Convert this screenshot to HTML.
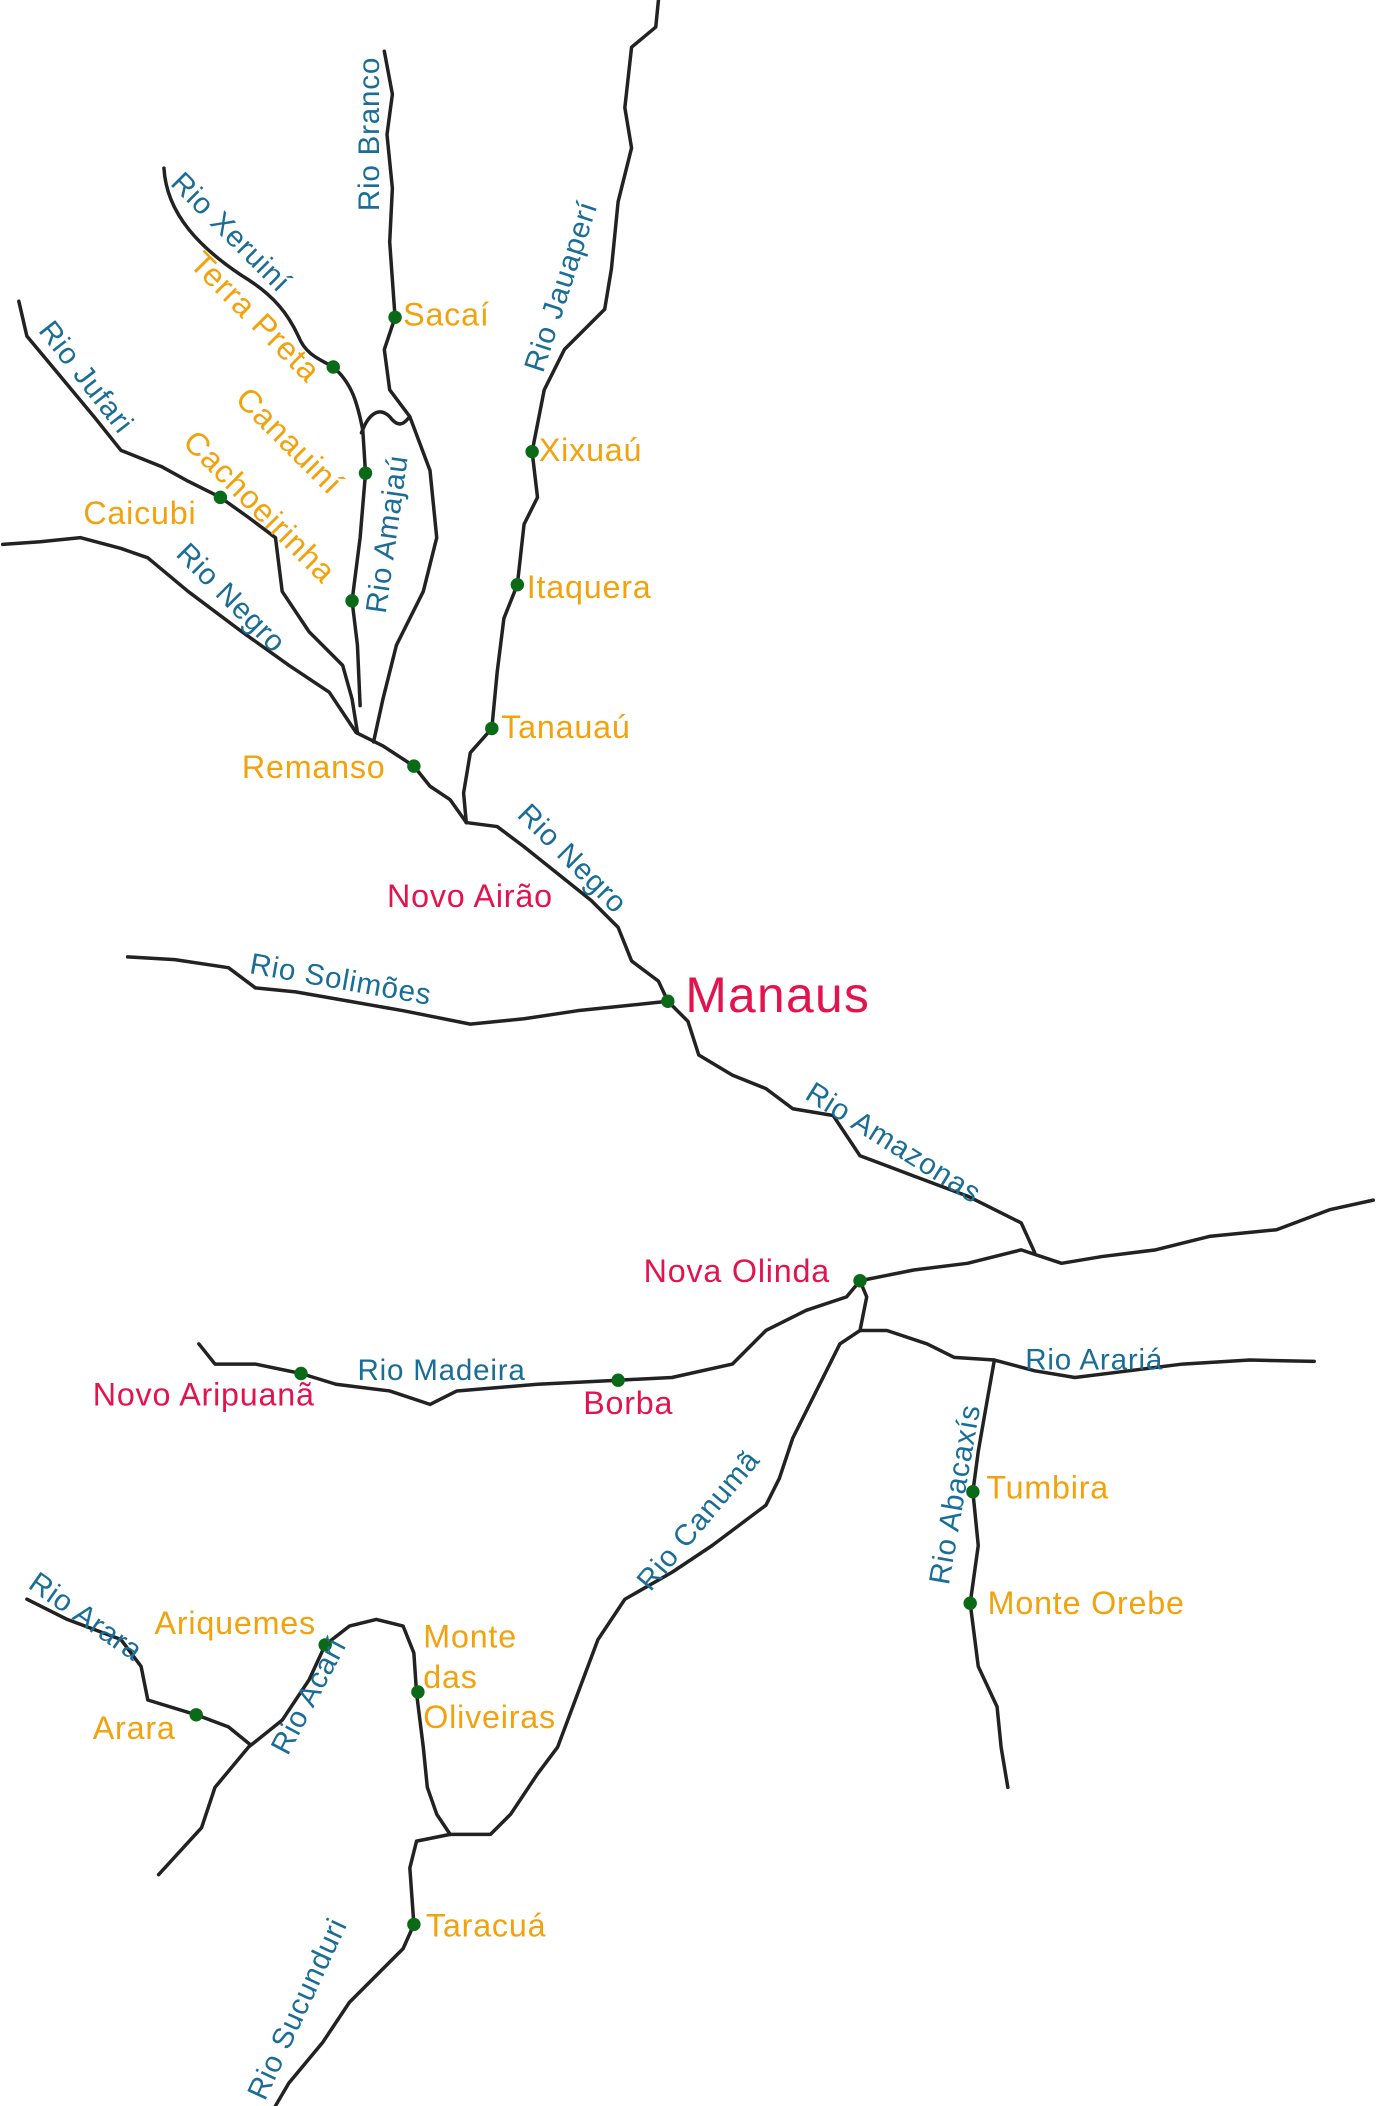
<!DOCTYPE html>
<html><head><meta charset="utf-8"><style>
html,body{margin:0;padding:0;background:#fff;}
svg{display:block;}
text{font-family:"Liberation Sans",sans-serif;letter-spacing:0.6px;}
.b{fill:#1a6d96;font-size:22px;}
.o{fill:#f2a20c;font-size:24px;}
.r{fill:#e3134d;font-size:24px;}
path{fill:none;stroke:#222;stroke-width:2.6;stroke-linejoin:round;stroke-linecap:round;}
circle{fill:#0b6a18;}
</style></head><body>
<svg width="1376" height="2106" viewBox="0 0 1024 1567" xmlns="http://www.w3.org/2000/svg">
<path d="M286,38 L292,70 L288,100 L292,140 L290,180 L294,236 L286,260 L290,290 L305,310 L320,350 L325,400 L315,440 L295,480 L285,520 L278,552"/>
<path d="M122,125 C124,160 150,185 180,205 C205,220 215,235 222,250 C228,265 240,268 248,273 C262,285 266,300 270,320 L272,352 L268,400 L262,447 L266,480 L268,525"/>
<path d="M269,322 C274,308 282,302 290,310 C296,318 300,316 304,311"/>
<path d="M14,224 L20,250 L45,280 L70,310 L90,335 L120,347 L140,358 L164,370 L185,385 L205,400 L210,440 L230,470 L255,495 L262,520 L266,545"/>
<path d="M2,405 L30,403 L60,400 L90,408 L110,415 L140,440 L180,470 L215,495 L245,515 L265,545 L285,555 L308,570 L320,585 L335,595 L347,612"/>
<path d="M490,0 L488,20 L470,35 L465,80 L470,110 L460,150 L455,200 L450,230 L420,260 L405,290 L396,336 L400,370 L390,390 L385,435 L375,460 L370,500 L366,542 L350,560 L345,590 L347,612"/>
<path d="M347,612 L370,615 L390,630 L415,650 L440,670 L460,690 L470,715 L490,730 L497,745"/>
<path d="M95,712 L130,714 L170,720 L190,735 L220,738 L260,745 L300,752 L350,762 L390,758 L430,752 L497,745"/>
<path d="M497,745 L512,760 L520,785 L545,800 L570,810 L590,825 L620,830 L640,860 L680,875 L720,890 L760,910 L770,932"/>
<path d="M640,953 L680,945 L720,940 L760,930 L790,940 L820,935 L860,930 L900,920 L950,915 L990,900 L1022,893"/>
<path d="M640,953 L630,965 L600,975 L570,990 L545,1015 L500,1025 L460,1027 L400,1030 L340,1035 L320,1045 L290,1035 L250,1030 L224,1022 L190,1015 L160,1015 L148,1000"/>
<path d="M640,953 L645,965 L640,990 L625,1000 L615,1020 L605,1040 L590,1070 L580,1100 L570,1120 L530,1150 L500,1170 L465,1190 L445,1220 L430,1260 L415,1300 L400,1320 L380,1350 L365,1365 L335,1365"/>
<path d="M640,990 L660,990 L690,1000 L710,1010 L740,1012 L770,1020 L800,1025 L840,1020 L880,1015 L930,1012 L978,1013"/>
<path d="M740,1012 L735,1040 L728,1080 L724,1110 L728,1150 L722,1193 L728,1240 L742,1270 L745,1300 L750,1330"/>
<path d="M20,1190 L50,1205 L90,1220 L105,1240 L110,1265 L146,1276 L170,1285 L186,1298"/>
<path d="M118,1395 L150,1360 L160,1330 L185,1300 L210,1280 L230,1250 L242,1224 L260,1210 L280,1205 L300,1210 L308,1230 L310,1260 L315,1300 L318,1330 L325,1350 L335,1365"/>
<path d="M335,1365 L310,1370 L305,1390 L308,1432 L300,1450 L285,1465 L260,1490 L240,1520 L215,1550 L205,1567"/>

<circle cx="294" cy="236" r="5"/><circle cx="248" cy="273" r="5"/><circle cx="272" cy="352" r="5"/>
<circle cx="164" cy="370" r="5"/><circle cx="262" cy="447" r="5"/><circle cx="396" cy="336" r="5"/>
<circle cx="385" cy="435" r="5"/><circle cx="366" cy="542" r="5"/><circle cx="308" cy="570" r="5"/>
<circle cx="497" cy="745" r="5"/><circle cx="640" cy="953" r="5"/><circle cx="224" cy="1022" r="5"/>
<circle cx="460" cy="1027" r="5"/><circle cx="724" cy="1110" r="5"/><circle cx="722" cy="1193" r="5"/>
<circle cx="242" cy="1224" r="5"/><circle cx="146" cy="1276" r="5"/><circle cx="311" cy="1259" r="5"/>
<circle cx="308" cy="1432" r="5"/>

<text class="b" transform="translate(282,157) rotate(-90)">Rio Branco</text>
<text class="b" transform="translate(126,137) rotate(45)">Rio Xeruiní</text>
<text class="o" transform="translate(140,197) rotate(45)">Terra Preta</text>
<text class="o" transform="translate(174,298) rotate(45)">Canauiní</text>
<text class="o" transform="translate(135,330) rotate(45)">Cachoeirinha</text>
<text class="b" transform="translate(28,246) rotate(52)">Rio Jufari</text>
<text class="b" transform="translate(287,457) rotate(-82)">Rio Amajaú</text>
<text class="b" transform="translate(130,413) rotate(45)">Rio Negro</text>
<text class="b" transform="translate(404,278) rotate(-72)">Rio Jauaperí</text>
<text class="o" x="300" y="242">Sacaí</text>
<text class="o" x="62" y="390">Caicubi</text>
<text class="o" x="401" y="343">Xixuaú</text>
<text class="o" x="392" y="445">Itaquera</text>
<text class="o" x="373" y="549">Tanauaú</text>
<text class="o" x="180" y="579">Remanso</text>
<text class="b" transform="translate(384,607) rotate(45)">Rio Negro</text>
<text class="r" x="288" y="675">Novo Airão</text>
<text class="b" transform="translate(185,724) rotate(10)">Rio Solimões</text>
<text class="r" x="510" y="753" style="font-size:37px;letter-spacing:1px">Manaus</text>
<text class="b" transform="translate(598,817) rotate(32)">Rio Amazonas</text>
<text class="r" x="479" y="954">Nova Olinda</text>
<text class="b" x="266" y="1027">Rio Madeira</text>
<text class="r" x="69" y="1046">Novo Aripuanã</text>
<text class="r" x="434" y="1052">Borba</text>
<text class="b" x="763" y="1019">Rio Arariá</text>
<text class="b" transform="translate(706,1180) rotate(-80)">Rio Abacaxís</text>
<text class="o" x="734" y="1115">Tumbira</text>
<text class="o" x="735" y="1201">Monte Orebe</text>
<text class="b" transform="translate(484,1185) rotate(-50)">Rio Canumã</text>
<text class="b" transform="translate(20,1181) rotate(35)">Rio Arara</text>
<text class="o" x="115" y="1216">Ariquemes</text>
<text class="o" x="69" y="1294">Arara</text>
<text class="b" transform="translate(214,1307) rotate(-62)">Rio Acarí</text>
<text class="o" x="315" y="1226">Monte</text>
<text class="o" x="315" y="1256">das</text>
<text class="o" x="315" y="1286">Oliveiras</text>
<text class="o" x="317" y="1441">Taracuá</text>
<text class="b" transform="translate(197,1564) rotate(-65)">Rio Sucunduri</text>
</svg>
</body></html>
